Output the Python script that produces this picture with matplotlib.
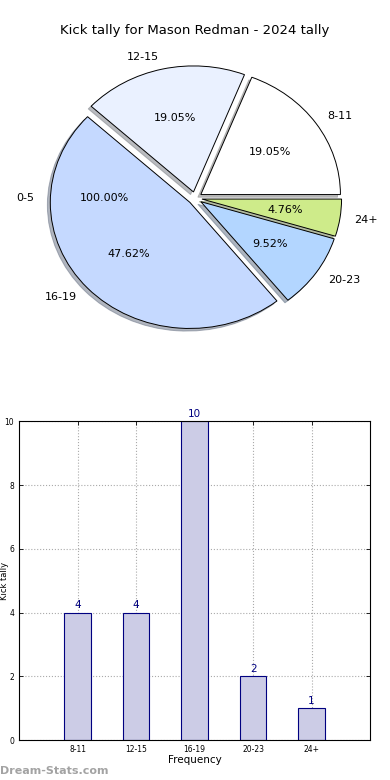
import matplotlib
matplotlib.use('Agg')
import matplotlib.pyplot as plt

# du lieu doc tu hinh
title = "Kick tally for Mason Redman - 2024 tally"
groups = ['8-11', '12-15', '16-19', '20-23', '24+']
kicks = [4, 4, 10, 2, 1]
pie_colors = ['#ffffff', '#eaf1ff', '#c5d9ff', '#b3d6ff', '#ceeb8a']
empty_group = '0-5'

fig = plt.figure(figsize=(3.9, 7.8), dpi=100)

# Pie (hinh elip nhu ban cu)
ax1 = fig.add_axes([0.0526, 0.544, 0.895, 0.404])
ax1.pie(kicks, labels=groups, colors=pie_colors, autopct='%.2f%%',
        explode=[0.05] * len(kicks),
        shadow=dict(ox=-0.015, oy=-0.015, shade=0.5), startangle=0,
        wedgeprops=dict(edgecolor='black', linewidth=0.7),
        textprops=dict(fontsize=8))
# nhom 0-5 khong co cu nao, van hien nhan nhu ban goc
ax1.pie([1], labels=[empty_group], autopct='%.2f%%', explode=[0.05],
        startangle=0, wedgeprops=dict(fill=False, linewidth=0),
        textprops=dict(fontsize=8))
ax1.set_aspect('auto')
ax1.set_xlim(-1.25, 1.25)
ax1.set_ylim(-1.25, 1.25)
fig.text(0.5, 0.961, title, ha='center', va='center', fontsize=9.5)

# Bar chart
ax2 = fig.add_axes([0.049, 0.051, 0.9, 0.409])
x = list(range(1, len(groups) + 1))
bars = ax2.bar(x, kicks, width=0.45, color='#ccccE6', edgecolor='#000080',
               linewidth=0.8, zorder=2)
for b, v in zip(bars, kicks):
    ax2.text(b.get_x() + b.get_width() / 2, v + 0.08, str(v), ha='center',
             va='bottom', color='#000080', fontsize=7.5)
ax2.set_xlim(0, 6)
ax2.set_ylim(0, 10)
ax2.set_xticks(x)
ax2.set_xticklabels(groups, fontsize=5.5)
ax2.tick_params(axis='y', labelsize=5.5)
ax2.tick_params(direction='in', length=3, width=0.6, top=True, right=True)
ax2.grid(True, linestyle=':', color='#aaaaaa', linewidth=0.8, zorder=0)
ax2.set_xlabel('Frequency', fontsize=7.5, labelpad=1)
ax2.set_ylabel('Kick tally', fontsize=6)
ax2.yaxis.set_label_coords(-0.028, 0.5)
for s in ax2.spines.values():
    s.set_linewidth(0.8)

fig.text(0.0, 0.012, 'Dream-Stats.com', color='#999999', fontsize=8,
         fontweight='bold', ha='left', va='center', alpha=0.9)

fig.savefig('out.png', dpi=100)
